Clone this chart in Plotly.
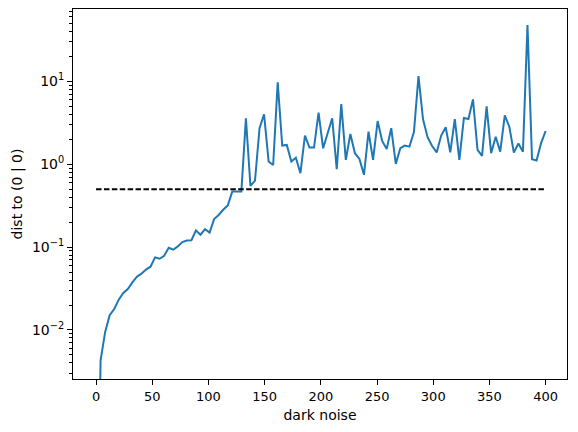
import plotly.graph_objects as go

# dark noise grid (x) and distance values
dark_noise = [
    0, 4.04, 8.08, 12.12, 16.16, 20.20, 24.24, 28.28, 32.32, 36.36,
    40.40, 44.44, 48.48, 52.53, 56.57, 60.61, 64.65, 68.69, 72.73, 76.77,
    80.81, 84.85, 88.89, 92.93, 96.97, 101.01, 105.05, 109.09, 113.13, 117.17,
    121.21, 125.25, 129.29, 133.33, 137.37, 141.41, 145.45, 149.49, 153.54, 157.58,
    161.62, 165.66, 169.70, 173.74, 177.78, 181.82, 185.86, 189.90, 193.94, 197.98,
    202.02, 206.06, 210.10, 214.14, 218.18, 222.22, 226.26, 230.30, 234.34, 238.38,
    242.42, 246.46, 250.51, 254.55, 258.59, 262.63, 266.67, 270.71, 274.75, 278.79,
    282.83, 286.87, 290.91, 294.95, 298.99, 303.03, 307.07, 311.11, 315.15, 319.19,
    323.23, 327.27, 331.31, 335.35, 339.39, 343.43, 347.47, 351.52, 355.56, 359.60,
    363.64, 367.68, 371.72, 375.76, 379.80, 383.84, 387.88, 391.92, 395.96, 400.00,
]

# first value lies far below the visible axis range
dist = [
    1e-6, 0.0043, 0.0094, 0.0151, 0.0179, 0.0232, 0.0279, 0.0312, 0.0375, 0.0439,
    0.0478, 0.0535, 0.058, 0.0752, 0.0724, 0.0787, 0.098, 0.093, 0.102, 0.115,
    0.120, 0.121, 0.159, 0.141, 0.165, 0.150, 0.218, 0.244, 0.282, 0.318,
    0.468, 0.468, 0.468, 3.59, 0.548, 0.635, 2.72, 4.01, 1.08, 0.98,
    9.74, 1.68, 1.71, 1.08, 1.20, 0.78, 2.22, 1.59, 1.59, 4.19,
    1.56, 2.37, 3.59, 0.87, 5.33, 1.13, 2.32, 1.36, 1.16, 0.745,
    2.47, 1.13, 3.32, 1.91, 1.53, 2.72, 1.01, 1.56, 1.68, 1.63,
    2.44, 11.6, 3.49, 2.12, 1.66, 1.39, 2.22, 2.80, 1.39, 3.51,
    1.13, 3.62, 3.51, 6.07, 1.49, 1.26, 5.0, 1.36, 2.15, 1.42,
    3.90, 2.84, 1.38, 1.78, 1.42, 48.0, 1.15, 1.11, 1.80, 2.52,
]

# threshold line
thresh_x = [0, 400]
thresh_y = [0.5, 0.5]

x_ticks = [0, 50, 100, 150, 200, 250, 300, 350, 400]
y_ticks = [0.01, 0.1, 1, 10]
y_ticktext = ["10<sup>−2</sup>", "10<sup>−1</sup>", "10<sup>0</sup>", "10<sup>1</sup>"]

# minor ticks for the log axis
minor_vals = [m * 10.0 ** e for e in range(-3, 2) for m in range(2, 10)]

fig = go.Figure()

fig.add_trace(go.Scatter(
    x=dark_noise, y=dist,
    mode="lines",
    line=dict(color="#1f77b4", width=2),
    showlegend=False,
))

fig.add_trace(go.Scatter(
    x=thresh_x, y=thresh_y,
    mode="lines",
    line=dict(color="black", width=2, dash="5.5px,2.4px"),
    showlegend=False,
))

fig.update_xaxes(
    range=[-20.5, 419],
    tickvals=x_ticks,
    ticks="outside", ticklen=5, tickwidth=1, tickcolor="black",
    tickfont=dict(size=13),
    showline=True, mirror=True, linecolor="black", linewidth=1,
    showgrid=False, zeroline=False, automargin=False,
    title=dict(text="dark noise", standoff=7, font=dict(size=14)),
)

fig.update_yaxes(
    type="log",
    range=[-2.592, 1.874],
    tickvals=y_ticks, ticktext=y_ticktext,
    ticks="outside", ticklen=5, tickwidth=1, tickcolor="black",
    tickfont=dict(size=14),
    minor=dict(tickvals=minor_vals, ticks="outside", ticklen=3,
               tickwidth=0.8, tickcolor="black", showgrid=False),
    showline=True, mirror=True, linecolor="black", linewidth=1,
    showgrid=False, zeroline=False, automargin=False,
    title=dict(text="dist to (0 | 0)", standoff=6, font=dict(size=14)),
)

# page body adds an 8px offset, so the figure is 8px smaller on each side
fig.update_layout(
    width=570, height=424,
    margin=dict(l=65, r=11, t=1, b=53),
    paper_bgcolor="white", plot_bgcolor="white",
    font=dict(family="DejaVu Sans", size=13, color="black"),
)

fig.write_html("out.html")
